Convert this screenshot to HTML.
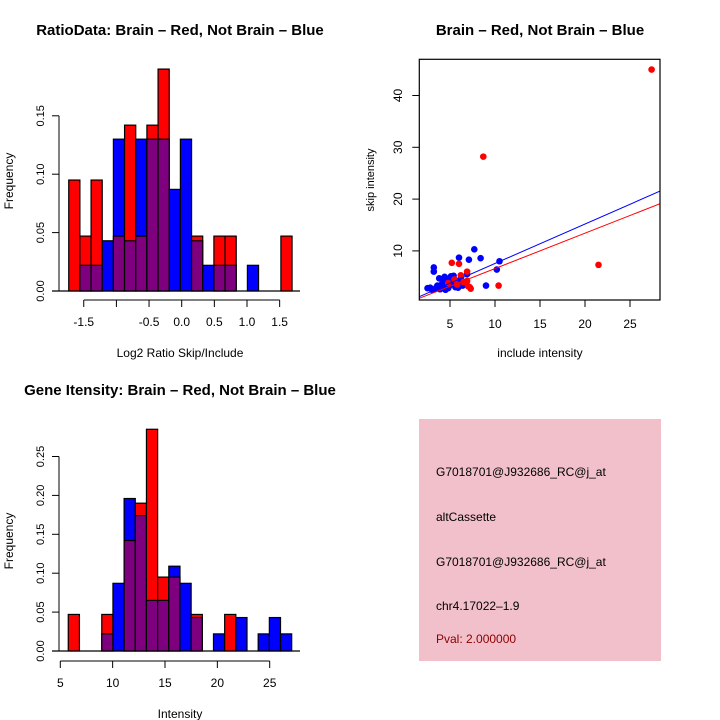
<!DOCTYPE html>
<html><head><meta charset="utf-8"><style>
html,body{margin:0;padding:0;background:#fff}
svg{display:block;font-family:"Liberation Sans",sans-serif}
</style></head><body>
<svg id="c" width="720" height="720" xmlns="http://www.w3.org/2000/svg"></svg>
<script>
// ---- data ----
const ratioRed  = [0.095,0.047,0.095,0,0.047,0.142,0.047,0.142,0.19,0,0,0.047,0,0.047,0.047,0,0,0,0,0.047];
const ratioBlue = [0,0.022,0.022,0.043,0.13,0.043,0.13,0.13,0.13,0.087,0.13,0.043,0.022,0.022,0.022,0,0.022,0,0,0];
const ratioStart = -1.73, ratioWidth = 0.171;
const ratioXTicks = [-1.5,-1.0,-0.5,0.0,0.5,1.0,1.5];
const ratioXLabels = ["-1.5","","-0.5","0.0","0.5","1.0","1.5"];
const ratioYTicks = [0,0.05,0.10,0.15];
const ratioYLabels = ["0.00","0.05","0.10","0.15"];

const intRed  = [0.047,0,0,0.047,0,0.142,0.19,0.285,0.095,0.095,0,0.047,0,0,0.047,0,0,0,0,0];
const intBlue = [0,0,0,0.022,0.087,0.196,0.174,0.065,0.065,0.109,0.087,0.043,0,0.022,0,0.043,0,0.022,0.043,0.022];
const intStart = 5.76, intWidth = 1.067;
const intXTicks = [5,10,15,20,25];
const intYTicks = [0,0.05,0.10,0.15,0.20,0.25];
const intYLabels = ["0.00","0.05","0.10","0.15","0.20","0.25"];

const redX = [27.4,8.7,21.5,10.4,7.2,7.3,5.2,6.0,6.9,6.9,6.2,5.5,6.5,5.8,7.0,4.8];
const redY = [45,28.2,7.3,3.3,3.0,2.7,7.7,7.5,6.0,4.2,5.3,4.5,4.0,3.5,3.2,3.8];
const blueX = [7.7,8.4,6.0,7.1,10.5,10.2,9.0,3.2,3.2,2.5,3.0,6.9,3.6,3.8,4.0,4.2,4.4,4.6,4.8,5.0,5.2,5.4,5.6,5.8,6.0,6.2,6.4,3.9,4.3,4.7,5.1,5.5,5.9,6.3,4.5,5.3,3.5,4.1,4.9,5.7,6.6,2.8,3.3];
const blueY = [10.3,8.6,8.7,8.3,8.0,6.4,3.3,6.8,6.0,2.8,2.5,5.5,3.3,4.7,3.0,4.5,5.0,3.5,2.8,4.8,3.6,5.2,3.0,4.2,3.8,4.6,3.3,2.6,3.9,4.2,5.1,3.4,2.9,4.0,2.5,4.4,3.0,3.6,3.2,3.9,3.7,2.9,2.6];
const slopeB = 0.762, interB = -0.05, slopeR = 0.683, interR = -0.24;

// ---- helpers ----
const NS="http://www.w3.org/2000/svg", svg=document.getElementById('c');
function el(tag, attrs, parent){const e=document.createElementNS(NS,tag);for(const k in attrs)e.setAttribute(k,attrs[k]);(parent||svg).appendChild(e);return e;}
function txt(s,x,y,attrs){const t=el('text',Object.assign({x:x,y:y,'font-size':12,'text-anchor':'middle',fill:'#000'},attrs||{}));t.textContent=s;return t;}

function hist(name, red, blue, start, w, xs, ys, xTicks, xLabels, yTicks, yLabels, y0px, yScale, xAxisY, title, xlab){
  const g=el('g',{});
  
  
  const px=v=>xs(v), py=v=>y0px - v*yScale;
  for(let i=0;i<red.length;i++){
    const l=px(start+i*w), r=px(start+(i+1)*w), mx=Math.max(red[i],blue[i]), mn=Math.min(red[i],blue[i]);
    if(mx>0){
      const b=el('rect',{x:l,y:py(mx),width:r-l,height:mx*yScale,fill:red[i]>=blue[i]?'#ff0000':'#0000ff',stroke:'#000','stroke-width':1.2},g);
      
      
    }
    if(mn>0){
      const b=el('rect',{x:l,y:py(mn),width:r-l,height:mn*yScale,fill:'#7f007f',stroke:'#000','stroke-width':1.2},g);
      
      
    }
  }
  el('line',{x1:52,x2:300,y1:y0px,y2:y0px,stroke:'#000','stroke-width':1.2},g);
  el('line',{x1:59,x2:59,y1:py(yTicks[0]),y2:py(yTicks[yTicks.length-1]),stroke:'#000','stroke-width':1},g);
  yTicks.forEach((v,i)=>{el('line',{x1:52,x2:59,y1:py(v),y2:py(v),stroke:'#000'},g);
    txt(yLabels[i],0,0,{transform:'translate(44,'+py(v)+') rotate(-90)','font-size':11});});
  el('line',{x1:px(xTicks[0]),x2:px(xTicks[xTicks.length-1]),y1:xAxisY,y2:xAxisY,stroke:'#000'},g);
  xTicks.forEach((v,i)=>{el('line',{x1:px(v),x2:px(v),y1:xAxisY,y2:xAxisY+7,stroke:'#000'},g);
    if(xLabels[i]) txt(xLabels[i],px(v),xAxisY+26,{'font-size':12});});
  const t=txt(title,180,y0px>400?395:35,{'font-size':15,'font-weight':'bold'});
  
  
  txt(xlab,180,xAxisY+57,{'font-size':12});
  txt('Frequency',0,0,{transform:'translate(13,'+(y0px-110)+') rotate(-90)','font-size':12});
}

hist('ratio-histogram', ratioRed, ratioBlue, ratioStart, ratioWidth, v=>181.7+v*65.3, null,
  ratioXTicks, ratioXLabels, ratioYTicks, ratioYLabels, 291, 1168, 300,
  'RatioData: Brain \u2013 Red, Not Brain \u2013 Blue','Log2 Ratio Skip/Include');
hist('intensity-histogram', intRed, intBlue, intStart, intWidth, v=>60.3+(v-5)*10.47, null,
  intXTicks, intXTicks.map(String), intYTicks, intYLabels, 651, 778, 661,
  'Gene Itensity: Brain \u2013 Red, Not Brain \u2013 Blue','Intensity');

// ---- scatter ----
(function(){
  const g=el('g',{});
  
  
  const L=419.3,R=660,T=59.3,B=300;
  const sx=v=>405+v*9, sy=v=>302.7-v*5.18;
  const cp=el('clipPath',{id:'cp'},g); el('rect',{x:L,y:T,width:R-L,height:B-T},cp);
  const pts=el('g',{'clip-path':'url(#cp)'},g);
  blueX.forEach((x,i)=>{const c=el('circle',{cx:sx(x),cy:sy(blueY[i]),r:3.3,fill:'#0000ff'},pts);
    
    });
  redX.forEach((x,i)=>{const c=el('circle',{cx:sx(x),cy:sy(redY[i]),r:3.3,fill:'#ff0000'},pts);
    
    });
  const x0=(L-405)/9, x1=(R-405)/9;
  const lb=el('line',{x1:sx(x0),y1:sy(interB+slopeB*x0),x2:sx(x1),y2:sy(interB+slopeB*x1),stroke:'#0000ff','stroke-width':1},pts);
  
  
  const lr=el('line',{x1:sx(x0),y1:sy(interR+slopeR*x0),x2:sx(x1),y2:sy(interR+slopeR*x1),stroke:'#ff0000','stroke-width':1},pts);
  
  
  el('rect',{x:L,y:T,width:R-L,height:B-T,fill:'none',stroke:'#000','stroke-width':1.2},g);
  [5,10,15,20,25].forEach(v=>{el('line',{x1:sx(v),x2:sx(v),y1:B,y2:B+7,stroke:'#000'},g);txt(String(v),sx(v),B+28,{'font-size':12});});
  [10,20,30,40].forEach(v=>{el('line',{x1:L-7,x2:L,y1:sy(v),y2:sy(v),stroke:'#000'},g);txt(String(v),0,0,{transform:'translate(402,'+sy(v)+') rotate(-90)','font-size':12});});
  txt('Brain \u2013 Red, Not Brain \u2013 Blue',540,35,{'font-size':15,'font-weight':'bold'});
  txt('include intensity',540,357,{'font-size':12});
  txt('skip intensity',0,0,{transform:'translate(374,180) rotate(-90)','font-size':11});
})();

// ---- info box ----
(function(){
  const g=el('g',{});
  
  
  el('rect',{x:419,y:419,width:242,height:242,fill:'#f2c0cb'},g);
  const lines=[['G7018701@J932686_RC@j_at',476,'#000'],['altCassette',521,'#000'],['G7018701@J932686_RC@j_at',566,'#000'],['chr4.17022\u20131.9',610,'#000'],['Pval: 2.000000',643,'#8b0000']];
  lines.forEach(l=>txt(l[0],436,l[1],{'text-anchor':'start','font-size':12,fill:l[2]}));
})();
</script>
</body></html>
